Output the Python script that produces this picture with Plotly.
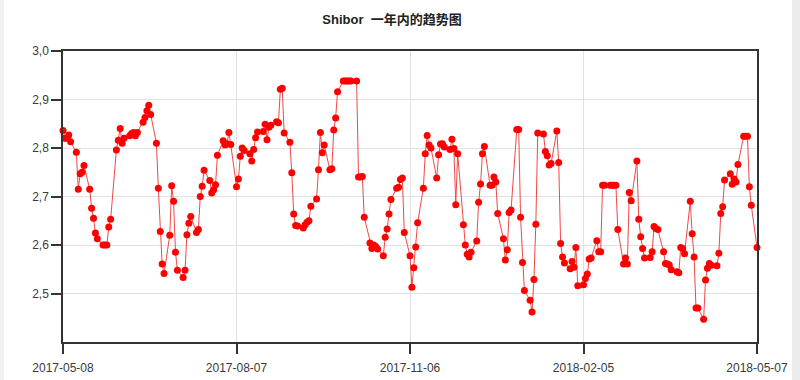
import plotly.graph_objects as go
import pandas as pd

title_text = "<b>Shibor  一年内的趋势图</b>"
start_date = "2017-05-08"
end_date = "2018-05-07"

# Shibor values, one per weekday (holidays carry a repeated value)
vals_q1 = [2.836, 2.82, 2.82, 2.827, 2.813, 2.791, 2.715, 2.747, 2.75, 2.764,
           2.715, 2.676, 2.655, 2.625, 2.613, 2.6, 2.6, 2.6, 2.637, 2.653,
           2.796, 2.816, 2.84, 2.81, 2.82, 2.825, 2.83, 2.832, 2.825, 2.832,
           2.853, 2.863, 2.877, 2.888, 2.869, 2.81, 2.717, 2.628, 2.561, 2.541,
           2.62, 2.722, 2.69,
           2.585, 2.548, 2.533, 2.548, 2.621, 2.645, 2.659, 2.626, 2.632, 2.70,
           2.721, 2.754, 2.733, 2.707, 2.714, 2.724, 2.785, 2.815, 2.806, 2.809]
vals_q2 = [2.832, 2.807, 2.72, 2.736, 2.783, 2.80, 2.795, 2.788, 2.773, 2.797,
           2.821, 2.833, 2.834, 2.849, 2.817, 2.843, 2.847, 2.854, 2.852, 2.921,
           2.923, 2.831, 2.812,
           2.749, 2.664, 2.64, 2.639, 2.635, 2.642, 2.647, 2.65, 2.68, 2.695,
           2.755, 2.832, 2.79, 2.806, 2.755, 2.757, 2.837, 2.862, 2.916, 2.938,
           2.938, 2.938, 2.938, 2.938, 2.938, 2.74, 2.74, 2.741, 2.657, 2.604,
           2.593, 2.6, 2.597, 2.592, 2.578, 2.616, 2.633, 2.664, 2.694, 2.717,
           2.719, 2.735, 2.738, 2.626]
vals_q3 = [2.578, 2.513, 2.553, 2.596, 2.646, 2.717, 2.788, 2.826, 2.806, 2.80,
           2.738, 2.786, 2.808, 2.809, 2.802, 2.797, 2.818, 2.799, 2.683, 2.788,
           2.642, 2.60, 2.581, 2.575, 2.585, 2.608, 2.688, 2.726, 2.788, 2.803,
           2.723, 2.723, 2.74, 2.73, 2.665, 2.613, 2.569, 2.59, 2.667, 2.672,
           2.838, 2.838, 2.657, 2.564, 2.506, 2.486, 2.462, 2.529, 2.643,
           2.831, 2.829, 2.793, 2.784, 2.765, 2.768, 2.835, 2.77, 2.603, 2.575,
           2.563, 2.551, 2.566, 2.554, 2.595, 2.516, 2.518, 2.531, 2.54, 2.571,
           2.573, 2.609, 2.586, 2.586]
vals_q4 = [2.723, 2.723, 2.723, 2.723, 2.723, 2.723,
           2.632, 2.561, 2.573, 2.561, 2.708, 2.691, 2.773, 2.653,
           2.617, 2.593, 2.573, 2.574, 2.586, 2.638, 2.634, 2.632, 2.586, 2.562,
           2.561, 2.559, 2.549, 2.545, 2.543, 2.595, 2.593, 2.582, 2.69, 2.623,
           2.575, 2.47, 2.47, 2.447, 2.528, 2.552, 2.562, 2.558, 2.557, 2.583,
           2.665, 2.679, 2.734, 2.747, 2.725, 2.736, 2.73, 2.766, 2.824, 2.824,
           2.824, 2.72, 2.682, 2.595]
values = vals_q1 + vals_q2 + vals_q3 + vals_q4
dates = pd.bdate_range(start_date, end_date)
n = min(len(dates), len(values))
dates = dates[:n]
values = values[:n]

x_tick_vals = ["2017-05-08", "2017-08-07", "2017-11-06", "2018-02-05", "2018-05-07"]
x_tick_text = ["2017-05-08", "2017-08-07", "2017-11-06", "2018-02-05", "2018-05-07"]
y_tick_vals = [2.5, 2.6, 2.7, 2.8, 2.9, 3.0]
y_tick_text = ["2,5", "2,6", "2,7", "2,8", "2,9", "3,0"]

fig = go.Figure()
fig.add_trace(go.Scatter(
    x=dates, y=values, mode="lines+markers",
    line=dict(color="#f04848", width=1),
    marker=dict(color="#ff0000", size=7),
    cliponaxis=False, showlegend=False,
))

axis_font = dict(family="Liberation Sans, Arial, sans-serif", size=12, color="#3a3a3a")
fig.update_layout(
    width=800, height=380,
    margin=dict(l=63, r=43, t=51, b=38),
    paper_bgcolor="white", plot_bgcolor="white",
    title=dict(text=title_text, x=0.49, xanchor="center", y=0.948, yanchor="middle",
               font=dict(family="Liberation Sans, Noto Sans CJK SC, sans-serif", size=13, color="#222222")),
    xaxis=dict(type="date", range=[start_date, end_date], tickvals=x_tick_vals, ticktext=x_tick_text,
               showline=True, linecolor="#333333", linewidth=1.5, mirror=True,
               ticks="outside", ticklen=10, tickcolor="#333333", tickwidth=1.5,
               ticklabelstandoff=4, automargin=False,
               showgrid=True, gridcolor="#e2e2e2", gridwidth=1, zeroline=False,
               tickfont=axis_font),
    yaxis=dict(range=[2.4, 3.0], tickvals=y_tick_vals, ticktext=y_tick_text,
               showline=True, linecolor="#333333", linewidth=1.5, mirror=True,
               ticks="outside", ticklen=10, tickcolor="#333333", tickwidth=1.5,
               automargin=False,
               showgrid=True, gridcolor="#e2e2e2", gridwidth=1, zeroline=False,
               tickfont=axis_font),
    shapes=[
        dict(type="rect", xref="paper", yref="paper", x0=1.0504, x1=1.07, y0=-0.2, y1=1.2,
             fillcolor="#ebebeb", line=dict(width=0), layer="below"),
        dict(type="rect", xref="paper", yref="paper", x0=-0.1, x1=-0.0850, y0=-0.2, y1=1.2,
             fillcolor="#f0f0f0", line=dict(width=0), layer="below"),
    ],
)

fig.write_html("out.html", config={"displayModeBar": False},
               post_script="document.body.style.margin='0';")
